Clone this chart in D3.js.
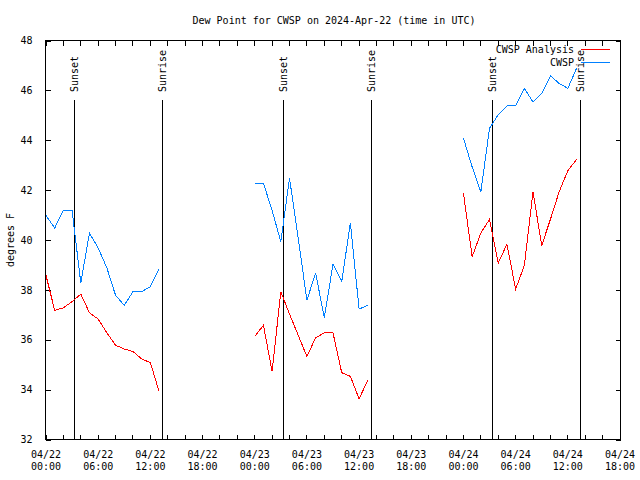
<!DOCTYPE html>
<html>
<head>
<meta charset="utf-8">
<script src="https://cdn.jsdelivr.net/npm/d3@7"></script>
<style>
  html, body { margin: 0; padding: 0; background: #fff; }
  svg { display: block; }
  text { font-family: "DejaVu Sans Mono", monospace; font-size: 10px; fill: #000; }
</style>
</head>
<body>
<svg id="chart" width="640" height="480"></svg>
<script>
// ---- data ----
const times = [
  "2024-04-22 00:00","2024-04-22 01:00","2024-04-22 02:00","2024-04-22 03:00","2024-04-22 04:00","2024-04-22 05:00","2024-04-22 06:00",
  "2024-04-22 07:00","2024-04-22 08:00","2024-04-22 09:00","2024-04-22 10:00","2024-04-22 11:00","2024-04-22 12:00","2024-04-22 13:00",
  "2024-04-23 00:00","2024-04-23 01:00","2024-04-23 02:00","2024-04-23 03:00","2024-04-23 04:00","2024-04-23 05:00","2024-04-23 06:00",
  "2024-04-23 07:00","2024-04-23 08:00","2024-04-23 09:00","2024-04-23 10:00","2024-04-23 11:00","2024-04-23 12:00","2024-04-23 13:00",
  "2024-04-24 00:00","2024-04-24 01:00","2024-04-24 02:00","2024-04-24 03:00","2024-04-24 04:00","2024-04-24 05:00","2024-04-24 06:00",
  "2024-04-24 07:00","2024-04-24 08:00","2024-04-24 09:00","2024-04-24 10:00","2024-04-24 11:00","2024-04-24 12:00","2024-04-24 13:00"
];
const analysisValues = [
  38.6, 37.2, 37.3, 37.55, 37.85, 37.1, 36.85, 36.3, 35.8, 35.65, 35.55, 35.25, 35.1, 33.95,
  36.15, 36.6, 34.75, 37.95, 37.05, 36.2, 35.35, 36.1, 36.3, 36.3, 34.7, 34.55, 33.65, 34.4,
  41.9, 39.35, 40.3, 40.85, 39.1, 39.85, 38.05, 39.0, 41.95, 39.8, 40.85, 41.95, 42.8, 43.25
];
const cwspValues = [
  41.0, 40.5, 41.2, 41.2, 38.3, 40.3, 39.7, 38.9, 37.8, 37.4, 37.95, 37.95, 38.15, 38.85,
  42.3, 42.3, 41.2, 39.95, 42.5, 40.1, 37.6, 38.7, 36.9, 39.05, 38.35, 40.7, 37.25, 37.4,
  44.1, 42.95, 41.95, 44.5, 45.05, 45.4, 45.4, 46.1, 45.55, 45.9, 46.6, 46.3, 46.1, 46.9
];
const seriesNames = ["CWSP Analysis", "CWSP"];
const seriesColors = ["#ff0000", "#0080ff"];
const sunEvents = [
  ["2024-04-22 03:15", "Sunset"], ["2024-04-22 13:18", "Sunrise"],
  ["2024-04-23 03:16", "Sunset"], ["2024-04-23 13:19", "Sunrise"],
  ["2024-04-24 03:19", "Sunset"], ["2024-04-24 13:21", "Sunrise"]
];
const yTicks = [32, 34, 36, 38, 40, 42, 44, 46, 48];
const xDomain = ["2024-04-22 00:00", "2024-04-24 18:00"];
const titleText = "Dew Point for CWSP on 2024-Apr-22 (time in UTC)";
const yLabelText = "degrees F";

// ---- chart ----
const parse = d3.utcParse("%Y-%m-%d %H:%M");
const L = 46, R = 620, T = 41, B = 440;
const svg = d3.select("#chart");

const x = d3.scaleUtc().domain(xDomain.map(parse)).range([L, R]);
const y = d3.scaleLinear().domain([32, 48]).range([B, T]);

// frame
svg.append("rect").attr("x", L - 0.5).attr("y", T - 0.5)
  .attr("width", R - L + 1).attr("height", B - T)
  .attr("fill", "none").attr("stroke", "#000").attr("stroke-width", 1)
  .attr("shape-rendering", "crispEdges");

const xTickVals = d3.utcHour.every(2).range(x.domain()[0], new Date(+x.domain()[1] + 1));
const fmtDay = d3.utcFormat("%m/%d"), fmtHour = d3.utcFormat("%H:%M");

// bottom axis
const gB = svg.append("g").attr("transform", `translate(-0.5,${B - 0.5})`)
  .call(d3.axisBottom(x).tickValues(xTickVals).tickSize(-5).tickSizeOuter(0).tickFormat(""));
gB.select(".domain").remove();
gB.selectAll(".tick").each(function(d) {
  if (d.getUTCHours() % 6 === 0) {
    const t = d3.select(this).select("text").attr("y", 0).attr("dy", null);
    t.append("tspan").attr("x", 0).attr("y", 18).text(fmtDay(d));
    t.append("tspan").attr("x", 0).attr("y", 30).text(fmtHour(d));
  }
});
// top axis
const gT = svg.append("g").attr("transform", `translate(-0.5,${T - 0.5})`)
  .call(d3.axisTop(x).tickValues(xTickVals).tickSize(-5).tickSizeOuter(0).tickFormat(""));
gT.select(".domain").remove();
// left axis
const gL = svg.append("g").attr("transform", `translate(${L - 0.5},-0.5)`)
  .call(d3.axisLeft(y).tickValues(yTicks).tickSize(-5).tickSizeOuter(0).tickPadding(13));
gL.select(".domain").remove();
// right axis
const gR = svg.append("g").attr("transform", `translate(${R + 0.5},-0.5)`)
  .call(d3.axisRight(y).tickValues(yTicks).tickSize(-5).tickSizeOuter(0).tickFormat(""));
gR.select(".domain").remove();
svg.selectAll(".tick line").attr("stroke", "#000").attr("shape-rendering", "crispEdges");
svg.selectAll(".tick text").style("font-family", "DejaVu Sans Mono").style("font-size", "10px").attr("fill", "#000");

// sunrise / sunset
sunEvents.forEach(([t, label]) => {
  const px = Math.round(x(parse(t))) + 0.5;
  svg.append("line").attr("x1", px).attr("x2", px).attr("y1", 100).attr("y2", B)
    .attr("stroke", "#000").attr("stroke-width", 1).attr("shape-rendering", "crispEdges");
  svg.append("text").attr("transform", `translate(${px},92) rotate(-90)`)
    .attr("dy", "0.35em").attr("text-anchor", "start").text(label);
});

// series
const points = times.map((t, i) => ({ t: parse(t), a: analysisValues[i], c: cwspValues[i] }));
function segments() {
  const segs = []; let cur = [];
  points.forEach((p, i) => {
    if (i > 0 && (p.t - points[i - 1].t) > 2 * 3600e3) { segs.push(cur); cur = []; }
    cur.push(p);
  });
  segs.push(cur);
  return segs;
}
[["a", 0], ["c", 1]].forEach(([key, si]) => {
  const line = d3.line().x(d => x(d.t)).y(d => y(d[key]));
  segments().forEach(seg => {
    svg.append("path").attr("d", line(seg)).attr("fill", "none")
      .attr("stroke", seriesColors[si]).attr("stroke-width", 1)
      .attr("shape-rendering", "crispEdges");
  });
});

// legend
seriesNames.forEach((n, i) => {
  const ly = 49.5 + i * 13;
  svg.append("text").attr("x", 574).attr("y", ly).attr("dy", "0.35em")
    .attr("text-anchor", "end").text(n);
  svg.append("line").attr("x1", 581).attr("x2", 610).attr("y1", ly).attr("y2", ly)
    .attr("stroke", seriesColors[i]).attr("stroke-width", 1).attr("shape-rendering", "crispEdges");
});

// title & y label
svg.append("text").attr("x", 334).attr("y", 24).attr("text-anchor", "middle").text(titleText);
svg.append("text").attr("transform", "translate(14,240) rotate(-90)")
  .attr("text-anchor", "middle").text(yLabelText);
</script>
</body>
</html>
